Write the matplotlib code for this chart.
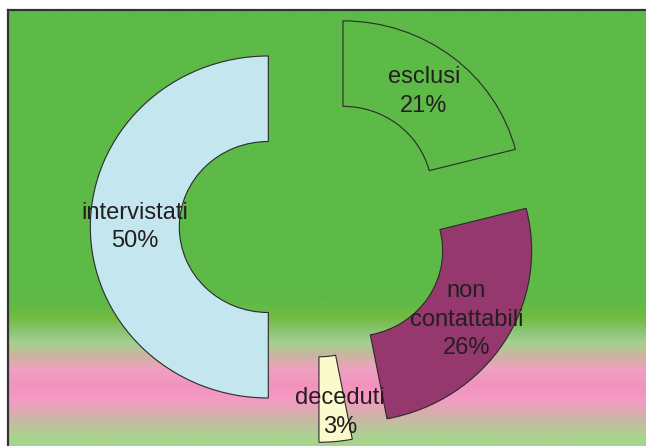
import matplotlib.pyplot as plt
import numpy as np
from matplotlib.colors import to_rgb

# survey outcome shares (percent)
categories = ["esclusi", "non\ncontattabili", "deceduti", "intervistati"]
shares = [21, 26, 3, 50]
colors = ["#5DBA47", "#94386E", "#FAFACD", "#C3E6EF"]

# vertical background bands: (pixel row, colour)
bg_stops = [(0, "#5DBA47"), (300, "#5DBA47"), (318, "#74BB44"), (332, "#8DC57A"),
            (343, "#A8D08F"), (356, "#CDB3A3"), (368, "#EEA2BE"), (385, "#F293BE"),
            (400, "#F49BC3"), (413, "#D6AFAA"), (425, "#BEC29F"), (437, "#A8D48E"),
            (446, "#A5D48E")]

W, H = 646, 446
fig = plt.figure(figsize=(W / 100, H / 100), dpi=100)
fig.patch.set_facecolor("white")

# framed background panel with gradient
bg = fig.add_axes([8 / W, 0, 1 - 8 / W, (H - 10) / H])
rows = np.arange(10, H)
rgb = np.array([to_rgb(c) for _, c in bg_stops])
ys = np.array([y for y, _ in bg_stops])
grad = np.stack([np.interp(rows, ys, rgb[:, k]) for k in range(3)], axis=-1)
bg.imshow(grad[:, None, :], aspect="auto", extent=(0, 1, 0, 1), interpolation="bilinear")
bg.set_xticks([])
bg.set_yticks([])
for side in ("right", "bottom"):
    bg.spines[side].set_visible(False)
for side in ("top", "left"):
    bg.spines[side].set_color("#333333")
    bg.spines[side].set_linewidth(1.6)

# exploded donut
ax = fig.add_axes([0, 0, 1, 1])
ax.patch.set_alpha(0)
wedges, _ = ax.pie(shares, colors=colors, startangle=90, counterclock=False,
                   explode=[0.26] * len(shares), radius=1,
                   wedgeprops=dict(width=0.5, edgecolor="#2a2a2a", linewidth=0.8))

cx, cy, sx, sy = 314.6, 227, 178, 171
ax.set_aspect("auto")
ax.set_xlim(-cx / sx, (W - cx) / sx)
ax.set_ylim(-(H - cy) / sy, cy / sy)
ax.axis("off")

label_r = [0.74, 0.75, 0.83, 0.75]
for w, name, v, r in zip(wedges, categories, shares, label_r):
    ang = np.deg2rad((w.theta1 + w.theta2) / 2)
    x0, y0 = w.center
    ax.text(x0 + r * np.cos(ang) + (0.04 if v == 3 else 0), y0 + r * np.sin(ang),
            f"{name}\n{v}%", ha="center", va="center", fontsize=17,
            color="#231F20", family="Liberation Sans", linespacing=1.4)

fig.savefig("out.png", dpi=100)
